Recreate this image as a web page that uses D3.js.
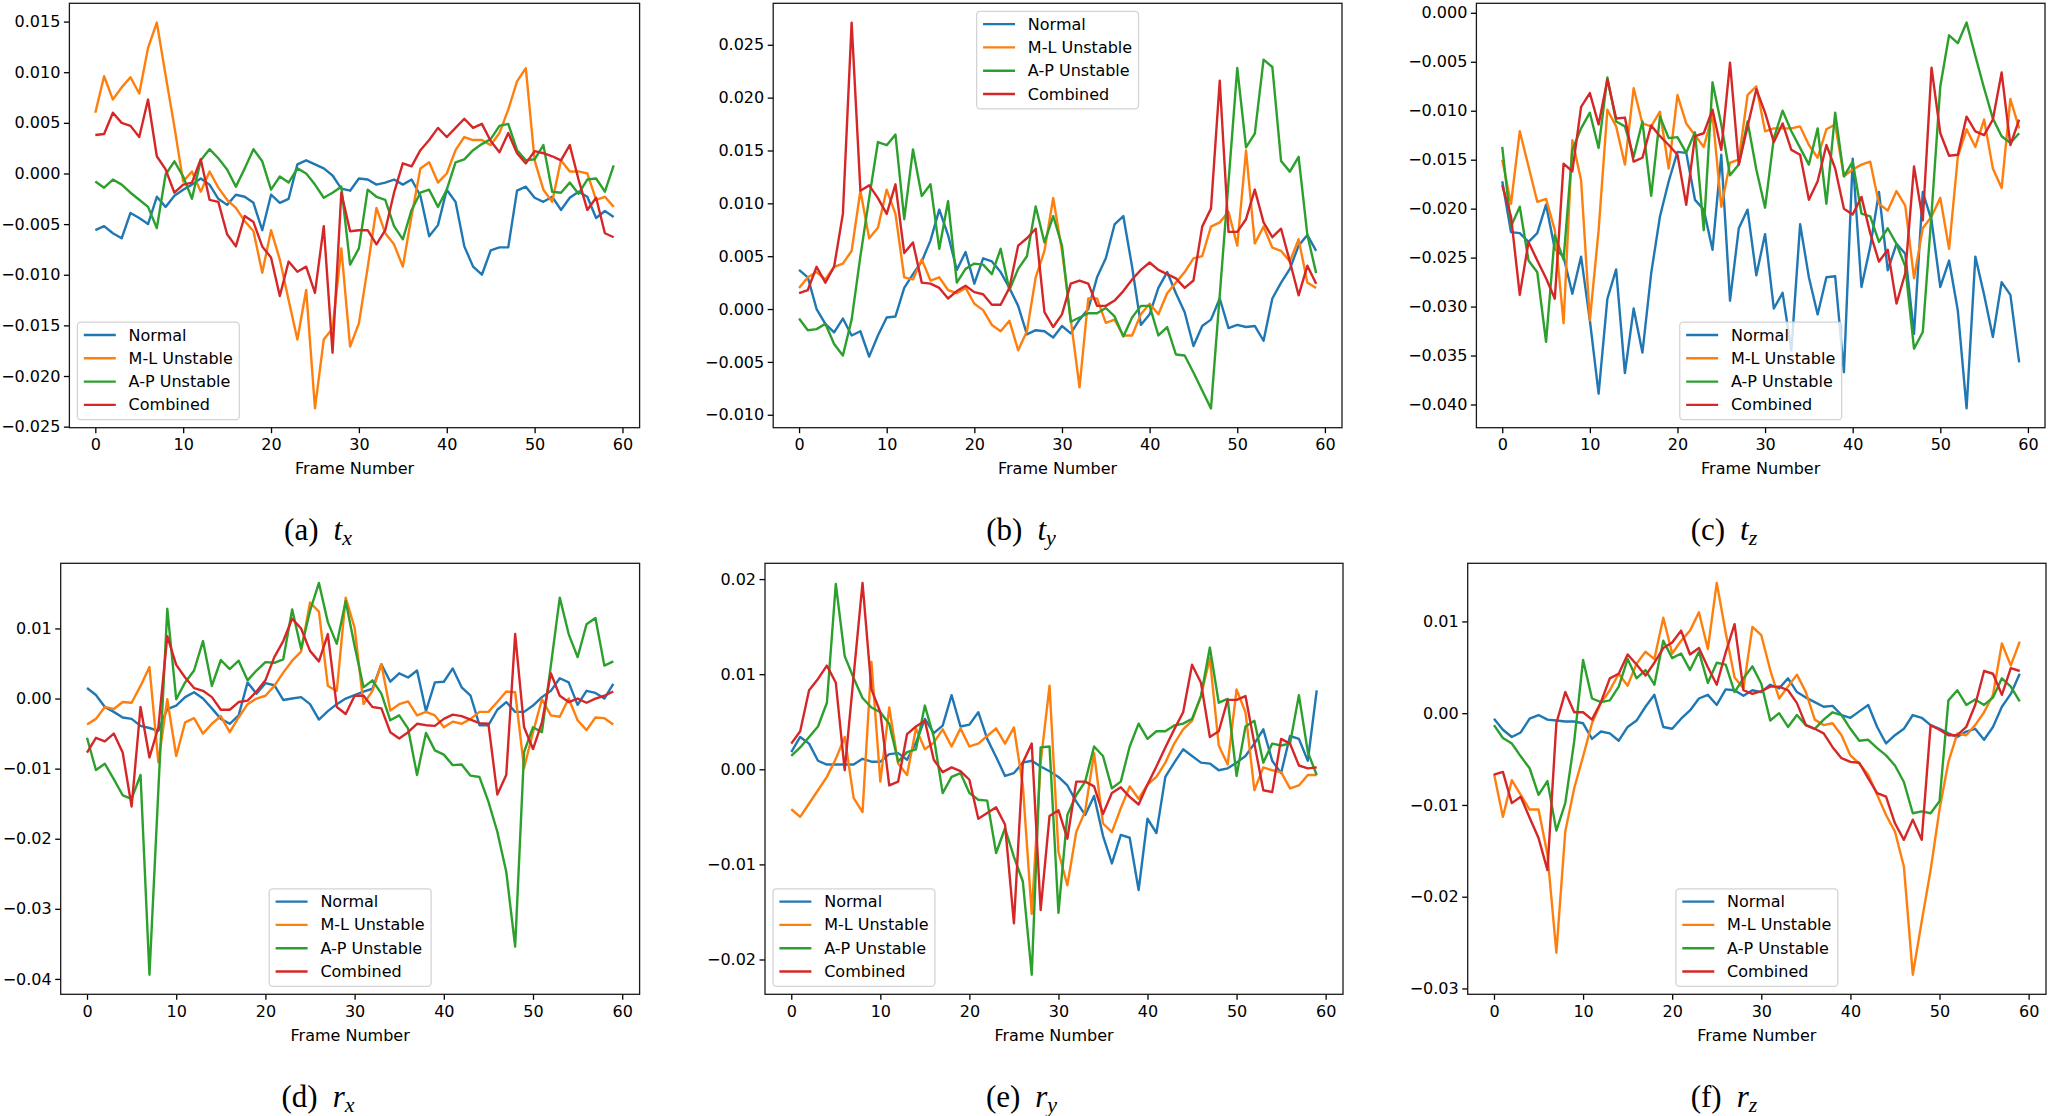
<!DOCTYPE html>
<html>
<head>
<meta charset="utf-8">
<script src="https://cdn.jsdelivr.net/npm/d3@7"></script>
<style>
  html, body { margin: 0; padding: 0; background: #fff; }
  svg { display: block; }
</style>
</head>
<body>
<svg id="fig" width="2048" height="1116"></svg>
<script>
// ---- data -------------------------------------------------------------
const frames = d3.range(60);
const frameTicks = [0, 10, 20, 30, 40, 50, 60];
const seriesNames = ["Normal", "M-L Unstable", "A-P Unstable", "Combined"];
const seriesColors = ["#1f77b4", "#ff7f0e", "#2ca02c", "#d62728"];

// (a) t_x
const txNormal = [
  -0.0056,-0.0052,-0.0059,-0.0064,-0.0039,-0.0044,-0.0050,-0.0023,-0.0033,-0.0022,
  -0.0016,-0.0011,-0.0005,-0.0011,-0.0025,-0.0031,-0.0021,-0.0023,-0.0029,-0.0056,
  -0.0021,-0.0029,-0.0025,0.0009,0.0013,0.0009,0.0005,-0.0002,-0.0015,-0.0017,
  -0.0005,-0.0006,-0.0011,-0.0009,-0.0006,-0.0011,-0.0006,-0.0022,-0.0062,-0.0051,
  -0.0016,-0.0028,-0.0072,-0.0092,-0.0100,-0.0076,-0.0073,-0.0073,-0.0017,-0.0013,
  -0.0024,-0.0028,-0.0023,-0.0036,-0.0024,-0.0018,-0.0023,-0.0044,-0.0037,-0.0043];
const txML = [
  0.0060,0.0096,0.0073,0.0085,0.0095,0.0079,0.0124,0.0149,0.0097,0.0046,
  -0.0008,0.0002,-0.0018,0.0002,-0.0014,-0.0026,-0.0034,-0.0047,-0.0057,-0.0098,
  -0.0056,-0.0085,-0.0125,-0.0164,-0.0115,-0.0232,-0.0164,-0.0153,-0.0074,-0.0171,
  -0.0148,-0.0093,-0.0034,-0.0059,-0.0070,-0.0092,-0.0042,0.0005,0.0011,-0.0009,
  0.0000,0.0023,0.0036,0.0033,0.0033,0.0028,0.0040,0.0063,0.0091,0.0104,
  0.0013,-0.0016,-0.0028,0.0013,0.0002,0.0002,0.0000,-0.0026,-0.0023,-0.0033];
const txAP = [
  -0.0008,-0.0014,-0.0006,-0.0011,-0.0019,-0.0026,-0.0033,-0.0054,-0.0001,0.0012,
  -0.0003,-0.0025,0.0013,0.0024,0.0015,0.0004,-0.0013,0.0005,0.0024,0.0012,
  -0.0016,-0.0003,-0.0009,0.0005,0.0000,-0.0011,-0.0024,-0.0019,-0.0013,-0.0090,
  -0.0074,-0.0016,-0.0023,-0.0026,-0.0052,-0.0065,-0.0036,-0.0019,-0.0016,-0.0033,
  -0.0016,0.0011,0.0014,0.0023,0.0029,0.0034,0.0047,0.0049,0.0023,0.0013,
  0.0014,0.0028,-0.0018,-0.0019,-0.0009,-0.0020,-0.0006,-0.0005,-0.0018,0.0008];
const txComb = [
  0.0038,0.0039,0.0060,0.0050,0.0047,0.0036,0.0073,0.0017,0.0004,-0.0019,
  -0.0011,-0.0009,0.0014,-0.0026,-0.0028,-0.0060,-0.0072,-0.0042,-0.0048,-0.0072,
  -0.0083,-0.0121,-0.0087,-0.0097,-0.0092,-0.0118,-0.0052,-0.0177,-0.0019,-0.0057,
  -0.0056,-0.0056,-0.0070,-0.0056,-0.0019,0.0010,0.0007,0.0023,0.0033,0.0045,
  0.0036,0.0045,0.0054,0.0045,0.0049,0.0032,0.0021,0.0040,0.0020,0.0010,
  0.0022,0.0020,0.0017,0.0013,0.0028,-0.0006,-0.0036,-0.0024,-0.0059,-0.0063];
const txTicks = [-0.025, -0.020, -0.015, -0.010, -0.005, 0, 0.005, 0.010, 0.015];

// (b) t_y
const tyNormal = [
  0.0037,0.0030,0.0000,-0.0014,-0.0022,-0.0009,-0.0025,-0.0021,-0.0045,-0.0025,
  -0.0008,-0.0007,0.0020,0.0033,0.0045,0.0065,0.0094,0.0070,0.0037,0.0054,
  0.0024,0.0048,0.0045,0.0035,0.0020,0.0003,-0.0024,-0.0020,-0.0021,-0.0027,
  -0.0016,-0.0023,-0.0010,0.0000,0.0030,0.0048,0.0080,0.0088,0.0040,-0.0015,
  -0.0005,0.0020,0.0035,0.0015,-0.0003,-0.0035,-0.0016,-0.0010,0.0010,-0.0018,
  -0.0015,-0.0017,-0.0016,-0.0030,0.0010,0.0025,0.0038,0.0060,0.0070,0.0055];
const tyML = [
  0.0020,0.0030,0.0035,0.0028,0.0040,0.0043,0.0055,0.0112,0.0067,0.0077,
  0.0113,0.0090,0.0030,0.0028,0.0047,0.0027,0.0030,0.0018,0.0015,0.0020,
  0.0005,-0.0001,-0.0015,-0.0021,-0.0011,-0.0039,-0.0021,0.0030,0.0055,0.0105,
  0.0055,-0.0010,-0.0074,0.0010,0.0010,-0.0013,-0.0010,-0.0025,-0.0025,-0.0005,
  0.0005,-0.0005,0.0015,0.0025,0.0035,0.0048,0.0050,0.0078,0.0082,0.0092,
  0.0060,0.0150,0.0062,0.0078,0.0058,0.0055,0.0045,0.0066,0.0025,0.0020];
const tyAP = [
  -0.0009,-0.0020,-0.0019,-0.0014,-0.0033,-0.0044,-0.0010,0.0050,0.0105,0.0158,
  0.0155,0.0165,0.0085,0.0151,0.0107,0.0118,0.0057,0.0102,0.0025,0.0038,
  0.0043,0.0042,0.0033,0.0057,0.0018,0.0038,0.0050,0.0097,0.0063,0.0088,
  0.0060,-0.0012,-0.0008,-0.0004,-0.0004,0.0001,-0.0007,-0.0026,-0.0008,0.0003,
  0.0003,-0.0025,-0.0017,-0.0043,-0.0044,-0.0060,-0.0077,-0.0094,0.0013,0.0120,
  0.0228,0.0153,0.0166,0.0236,0.0229,0.0140,0.0130,0.0144,0.0070,0.0034];
const tyComb = [
  0.0015,0.0018,0.0040,0.0025,0.0040,0.0090,0.0271,0.0112,0.0117,0.0105,
  0.0090,0.0118,0.0053,0.0063,0.0025,0.0024,0.0020,0.0010,0.0017,0.0022,
  0.0016,0.0014,0.0004,0.0004,0.0020,0.0060,0.0067,0.0076,-0.0003,-0.0017,
  -0.0005,0.0024,0.0027,0.0024,0.0003,0.0003,0.0008,0.0017,0.0028,0.0037,
  0.0044,0.0037,0.0033,0.0029,0.0020,0.0027,0.0078,0.0095,0.0216,0.0073,
  0.0073,0.0085,0.0113,0.0082,0.0068,0.0076,0.0045,0.0013,0.0041,0.0024];
const tyTicks = [-0.010, -0.005, 0, 0.005, 0.010, 0.015, 0.020, 0.025];

// (c) t_z
const tzNormal = [
  -0.0172,-0.0224,-0.0225,-0.0234,-0.0225,-0.0196,-0.0241,-0.0249,-0.0287,-0.0249,
  -0.0314,-0.0389,-0.0292,-0.0262,-0.0368,-0.0302,-0.0347,-0.0266,-0.0208,-0.0172,
  -0.0142,-0.0143,-0.0191,-0.0201,-0.0242,-0.0145,-0.0294,-0.0220,-0.0201,-0.0268,
  -0.0226,-0.0302,-0.0286,-0.0345,-0.0216,-0.0270,-0.0308,-0.0270,-0.0269,-0.0367,
  -0.0149,-0.0280,-0.0239,-0.0183,-0.0263,-0.0236,-0.0246,-0.0328,-0.0183,-0.0212,
  -0.0280,-0.0253,-0.0304,-0.0404,-0.0249,-0.0288,-0.0331,-0.0275,-0.0288,-0.0357];
const tzML = [
  -0.0150,-0.0195,-0.0121,-0.0157,-0.0193,-0.0190,-0.0222,-0.0317,-0.0130,-0.0171,
  -0.0314,-0.0222,-0.0099,-0.0116,-0.0155,-0.0077,-0.0113,-0.0116,-0.0101,-0.0159,
  -0.0084,-0.0113,-0.0125,-0.0137,-0.0104,-0.0198,-0.0153,-0.0150,-0.0084,-0.0075,
  -0.0121,-0.0118,-0.0118,-0.0118,-0.0116,-0.0135,-0.0148,-0.0119,-0.0114,-0.0167,
  -0.0160,-0.0155,-0.0152,-0.0195,-0.0202,-0.0182,-0.0197,-0.0271,-0.0220,-0.0208,
  -0.0189,-0.0241,-0.0147,-0.0119,-0.0137,-0.0109,-0.0159,-0.0179,-0.0088,-0.0118];
const tzAP = [
  -0.0137,-0.0218,-0.0198,-0.0253,-0.0265,-0.0336,-0.0227,-0.0252,-0.0140,-0.0118,
  -0.0102,-0.0138,-0.0066,-0.0111,-0.0116,-0.0147,-0.0111,-0.0187,-0.0106,-0.0128,
  -0.0127,-0.0143,-0.0122,-0.0222,-0.0071,-0.0114,-0.0166,-0.0155,-0.0111,-0.0160,
  -0.0199,-0.0128,-0.0100,-0.0121,-0.0138,-0.0155,-0.0118,-0.0195,-0.0102,-0.0167,
  -0.0152,-0.0205,-0.0208,-0.0234,-0.0220,-0.0236,-0.0259,-0.0343,-0.0326,-0.0205,
  -0.0075,-0.0023,-0.0031,-0.0010,-0.0044,-0.0077,-0.0108,-0.0126,-0.0133,-0.0123];
const tzComb = [
  -0.0176,-0.0208,-0.0288,-0.0234,-0.0253,-0.0271,-0.0292,-0.0154,-0.0162,-0.0096,
  -0.0082,-0.0114,-0.0068,-0.0108,-0.0107,-0.0152,-0.0148,-0.0115,-0.0126,-0.0135,
  -0.0145,-0.0196,-0.0126,-0.0123,-0.0099,-0.0140,-0.0051,-0.0155,-0.0116,-0.0078,
  -0.0102,-0.0132,-0.0113,-0.0140,-0.0145,-0.0191,-0.0172,-0.0135,-0.0159,-0.0200,
  -0.0206,-0.0188,-0.0225,-0.0254,-0.0242,-0.0297,-0.0266,-0.0157,-0.0212,-0.0056,
  -0.0123,-0.0146,-0.0145,-0.0106,-0.0121,-0.0125,-0.0109,-0.0061,-0.0135,-0.0109];
const tzTicks = [-0.040, -0.035, -0.030, -0.025, -0.020, -0.015, -0.010, -0.005, 0];

// (d) r_x
const rxNormal = [
  0.0015,0.0005,-0.0012,-0.0019,-0.0027,-0.0029,-0.0039,-0.0042,-0.0046,-0.0015,
  -0.0010,0.0002,0.0009,0.0000,-0.0014,-0.0029,-0.0036,-0.0024,0.0023,0.0007,
  0.0022,0.0019,-0.0002,0.0000,0.0002,-0.0008,-0.0030,-0.0018,-0.0008,0.0000,
  0.0005,0.0010,0.0014,0.0049,0.0024,0.0036,0.0030,0.0040,-0.0018,0.0023,
  0.0024,0.0043,0.0016,0.0004,-0.0038,-0.0038,-0.0016,-0.0005,-0.0019,-0.0019,
  -0.0010,0.0002,0.0011,0.0029,0.0023,-0.0009,0.0011,0.0008,0.0000,0.0021];
const rxML = [
  -0.0037,-0.0029,-0.0012,-0.0015,-0.0005,-0.0006,0.0018,0.0045,-0.0091,-0.0001,
  -0.0082,-0.0034,-0.0028,-0.0050,-0.0036,-0.0025,-0.0048,-0.0027,-0.0008,0.0000,
  0.0004,0.0018,0.0037,0.0054,0.0067,0.0137,0.0124,0.0018,0.0011,0.0144,
  0.0101,-0.0008,0.0011,0.0049,-0.0017,-0.0008,-0.0004,-0.0024,-0.0019,-0.0024,
  -0.0041,-0.0033,-0.0036,-0.0029,-0.0019,-0.0019,-0.0005,0.0010,0.0009,-0.0099,
  -0.0048,-0.0001,-0.0024,-0.0026,0.0000,-0.0031,-0.0045,-0.0027,-0.0028,-0.0037];
const rxAP = [
  -0.0056,-0.0102,-0.0093,-0.0115,-0.0138,-0.0143,-0.0109,-0.0394,-0.0130,0.0128,
  -0.0001,0.0023,0.0040,0.0082,0.0018,0.0055,0.0042,0.0054,0.0026,0.0040,
  0.0052,0.0051,0.0056,0.0127,0.0071,0.0125,0.0165,0.0109,0.0078,0.0139,
  0.0075,0.0016,0.0026,0.0007,-0.0031,-0.0024,-0.0043,-0.0109,-0.0049,-0.0074,
  -0.0080,-0.0095,-0.0094,-0.0110,-0.0112,-0.0147,-0.0190,-0.0247,-0.0354,-0.0076,
  -0.0041,-0.0048,0.0047,0.0144,0.0092,0.0059,0.0106,0.0115,0.0047,0.0053];
const rxComb = [
  -0.0077,-0.0056,-0.0061,-0.0050,-0.0077,-0.0154,-0.0012,-0.0084,-0.0041,0.0089,
  0.0048,0.0030,0.0015,0.0011,0.0002,-0.0016,-0.0016,-0.0005,-0.0003,0.0010,
  0.0026,0.0059,0.0082,0.0114,0.0100,0.0068,0.0053,0.0092,-0.0012,-0.0022,
  0.0004,0.0004,-0.0012,-0.0014,-0.0048,-0.0057,-0.0048,-0.0036,-0.0038,-0.0039,
  -0.0029,-0.0023,-0.0025,-0.0030,-0.0035,-0.0036,-0.0137,-0.0109,0.0092,-0.0041,
  -0.0072,-0.0034,0.0036,0.0004,-0.0005,0.0000,-0.0006,0.0000,0.0004,0.0010];
const rxTicks = [-0.04, -0.03, -0.02, -0.01, 0, 0.01];

// (e) r_y
const ryNormal = [
  0.0018,0.0034,0.0027,0.0009,0.0005,0.0005,0.0005,0.0005,0.0011,0.0008,
  0.0008,0.0016,0.0017,0.0010,0.0028,0.0053,0.0038,0.0046,0.0078,0.0045,
  0.0047,0.0060,0.0032,0.0013,-0.0007,-0.0004,0.0007,0.0009,0.0003,-0.0002,
  -0.0008,-0.0017,-0.0034,-0.0048,-0.0028,-0.0070,-0.0099,-0.0069,-0.0072,-0.0127,
  -0.0052,-0.0067,-0.0008,0.0007,0.0021,0.0014,0.0007,0.0006,-0.0001,0.0001,
  0.0007,0.0014,0.0027,0.0042,0.0009,-0.0004,0.0035,0.0032,0.0009,0.0083];
const ryML = [
  -0.0042,-0.0050,-0.0036,-0.0022,-0.0008,0.0011,0.0034,-0.0030,-0.0045,0.0113,
  -0.0013,0.0065,0.0006,-0.0006,0.0043,0.0021,0.0028,0.0042,0.0024,0.0043,
  0.0024,0.0027,0.0035,0.0043,0.0027,0.0044,-0.0017,-0.0152,0.0007,0.0088,
  -0.0087,-0.0122,-0.0066,-0.0044,0.0017,-0.0057,-0.0066,-0.0041,-0.0018,-0.0031,
  -0.0016,-0.0008,0.0007,0.0027,0.0042,0.0051,0.0077,0.0117,0.0025,0.0005,
  0.0084,0.0060,-0.0022,0.0002,-0.0001,-0.0003,-0.0020,-0.0017,-0.0006,-0.0006];
const ryAP = [
  0.0014,0.0023,0.0034,0.0045,0.0070,0.0195,0.0119,0.0096,0.0075,0.0065,
  0.0060,0.0048,0.0008,0.0018,0.0021,0.0067,0.0034,-0.0025,-0.0008,-0.0004,
  -0.0025,-0.0032,-0.0033,-0.0088,-0.0062,-0.0092,-0.0118,-0.0216,0.0023,0.0024,
  -0.0151,-0.0048,-0.0027,-0.0013,0.0024,0.0014,-0.0020,-0.0013,0.0024,0.0048,
  0.0032,0.0040,0.0040,0.0046,0.0048,0.0053,0.0077,0.0128,0.0070,0.0074,
  -0.0007,0.0045,0.0051,0.0007,0.0027,0.0025,0.0027,0.0078,0.0018,-0.0006];
const ryComb = [
  0.0027,0.0040,0.0083,0.0095,0.0109,0.0091,-0.0001,0.0098,0.0196,0.0084,
  0.0060,-0.0017,-0.0013,0.0037,0.0045,0.0051,0.0010,-0.0003,0.0002,-0.0002,
  -0.0011,-0.0052,-0.0046,-0.0040,-0.0058,-0.0162,0.0007,0.0027,-0.0148,-0.0049,
  -0.0043,-0.0073,-0.0013,-0.0013,-0.0018,-0.0047,-0.0025,-0.0019,-0.0029,-0.0037,
  -0.0016,0.0003,0.0023,0.0042,0.0060,0.0110,0.0091,0.0034,0.0040,0.0073,
  0.0073,0.0077,0.0027,-0.0022,-0.0024,0.0032,0.0027,0.0004,0.0001,0.0002];
const ryTicks = [-0.02, -0.01, 0, 0.01, 0.02];

// (f) r_z
const rzNormal = [
  -0.0006,-0.0018,-0.0026,-0.0021,-0.0006,-0.0002,-0.0007,-0.0008,-0.0009,-0.0009,
  -0.0011,-0.0028,-0.0020,-0.0022,-0.0030,-0.0015,-0.0008,0.0007,0.0020,-0.0015,
  -0.0017,-0.0006,0.0003,0.0016,0.0020,0.0009,0.0026,0.0025,0.0019,0.0025,
  0.0023,0.0031,0.0027,0.0038,0.0023,0.0017,0.0012,0.0007,0.0008,-0.0002,
  -0.0005,0.0002,0.0009,-0.0015,-0.0033,-0.0024,-0.0017,-0.0002,-0.0005,-0.0013,
  -0.0017,-0.0022,-0.0026,-0.0020,-0.0017,-0.0029,-0.0015,0.0007,0.0021,0.0043];
const rzML = [
  -0.0066,-0.0113,-0.0073,-0.0089,-0.0105,-0.0105,-0.0154,-0.0261,-0.0129,-0.0082,
  -0.0047,-0.0011,0.0011,0.0025,0.0043,0.0030,0.0054,0.0067,0.0059,0.0104,
  0.0065,0.0079,0.0090,0.0110,0.0070,0.0142,0.0088,0.0039,0.0027,0.0094,
  0.0085,0.0047,0.0016,0.0029,0.0042,0.0023,-0.0007,-0.0013,-0.0011,-0.0024,
  -0.0046,-0.0055,-0.0067,-0.0089,-0.0111,-0.0129,-0.0167,-0.0285,-0.0227,-0.0171,
  -0.0105,-0.0053,-0.0022,-0.0024,-0.0013,0.0001,0.0020,0.0076,0.0052,0.0078];
const rzAP = [
  -0.0013,-0.0027,-0.0033,-0.0047,-0.0060,-0.0089,-0.0074,-0.0128,-0.0098,-0.0031,
  0.0058,0.0016,0.0012,0.0014,0.0029,0.0059,0.0038,0.0047,0.0031,0.0079,
  0.0060,0.0065,0.0047,0.0067,0.0033,0.0055,0.0053,0.0023,0.0038,0.0051,
  0.0032,-0.0008,0.0000,-0.0015,-0.0002,-0.0013,-0.0017,-0.0007,0.0001,-0.0002,
  -0.0017,-0.0030,-0.0029,-0.0038,-0.0046,-0.0057,-0.0075,-0.0109,-0.0107,-0.0109,
  -0.0096,0.0014,0.0025,0.0009,0.0015,0.0009,0.0017,0.0038,0.0029,0.0013];
const rzComb = [
  -0.0067,-0.0064,-0.0098,-0.0091,-0.0114,-0.0136,-0.0171,-0.0011,0.0023,0.0001,
  0.0001,-0.0007,0.0012,0.0038,0.0043,0.0064,0.0053,0.0041,0.0055,0.0071,
  0.0077,0.0090,0.0064,0.0071,0.0050,0.0031,0.0066,0.0097,0.0025,0.0021,
  0.0024,0.0029,0.0029,0.0025,0.0011,-0.0013,-0.0017,-0.0022,-0.0037,-0.0049,
  -0.0053,-0.0054,-0.0071,-0.0087,-0.0091,-0.0120,-0.0138,-0.0116,-0.0138,-0.0013,
  -0.0018,-0.0024,-0.0024,-0.0015,0.0009,0.0046,0.0043,0.0020,0.0049,0.0046];
const rzTicks = [-0.03, -0.02, -0.01, 0, 0.01];

// ---- layout -----------------------------------------------------------
const panels = [
  { letter: "a", sym: "t", sub: "x", series: [txNormal, txML, txAP, txComb], ticks: txTicks, digits: 3,
    legend: "lower left", box: [69.4, 3.3, 639.6, 427.7], cap: [318, 540] },
  { letter: "b", sym: "t", sub: "y", series: [tyNormal, tyML, tyAP, tyComb], ticks: tyTicks, digits: 3,
    legend: "upper center", box: [773.2, 3.3, 1342, 427.7], cap: [1021, 540] },
  { letter: "c", sym: "t", sub: "z", series: [tzNormal, tzML, tzAP, tzComb], ticks: tzTicks, digits: 3,
    legend: "lower center", box: [1476.4, 3.3, 2045, 427.7], cap: [1724, 540] },
  { letter: "d", sym: "r", sub: "x", series: [rxNormal, rxML, rxAP, rxComb], ticks: rxTicks, digits: 2,
    legend: "lower center", box: [60.7, 563.3, 639.6, 994.3], cap: [318, 1107] },
  { letter: "e", sym: "r", sub: "y", series: [ryNormal, ryML, ryAP, ryComb], ticks: ryTicks, digits: 2,
    legend: "lower left", box: [765, 563.3, 1343, 994.3], cap: [1021.5, 1107] },
  { letter: "f", sym: "r", sub: "z", series: [rzNormal, rzML, rzAP, rzComb], ticks: rzTicks, digits: 2,
    legend: "lower center", box: [1467.7, 563.3, 2046, 994.3], cap: [1724, 1107] }
];

const FONT = "'DejaVu Sans', sans-serif";
const FS = 16;            // 10pt at this scale
const TICK = 5.5;
const PAD = 3.5;

const svg = d3.select("#fig");
svg.append("rect").attr("width", 2048).attr("height", 1116).attr("fill", "#fff");

// matplotlib style 5% margins
const padDomain = ([lo, hi]) => { const m = (hi - lo) * 0.05; return [lo - m, hi + m]; };
const fmtTick = digits => d => d.toFixed(digits).replace("-", "\u2212");

function styleAxis(g) {
  g.select(".domain").remove();
  g.attr("font-family", FONT).attr("font-size", FS);
  g.selectAll(".tick line").attr("stroke", "#000").attr("stroke-width", 1.3);
  g.selectAll(".tick text").attr("fill", "#000");
}

function drawPanel(p) {
  const [left, top, right, bottom] = p.box;
  const x = d3.scaleLinear().domain(padDomain(d3.extent(frames))).range([left, right]);
  const y = d3.scaleLinear().domain(padDomain(d3.extent(p.series.flat()))).range([bottom, top]);

  const g = svg.append("g").attr("id", `panel-${p.letter}`);

  const clipId = `clip-${p.letter}`;
  g.append("clipPath").attr("id", clipId)
    .append("rect").attr("x", left).attr("y", top).attr("width", right - left).attr("height", bottom - top);

  g.append("g")
      .attr("transform", `translate(0,${bottom})`)
      .call(d3.axisBottom(x).tickValues(frameTicks).tickSize(TICK).tickPadding(5.5).tickFormat(d3.format("d")))
      .call(styleAxis);

  g.append("g")
      .attr("transform", `translate(${left},0)`)
      .call(d3.axisLeft(y).tickValues(p.ticks).tickSize(TICK).tickPadding(PAD).tickFormat(fmtTick(p.digits)))
      .call(styleAxis);

  const line = d3.line().x((d, i) => x(frames[i])).y(d => y(d));
  g.append("g").attr("clip-path", `url(#${clipId})`)
    .selectAll("path").data(p.series).join("path")
      .attr("d", line)
      .attr("fill", "none")
      .attr("stroke", (d, i) => seriesColors[i])
      .attr("stroke-width", 2.4)
      .attr("stroke-linejoin", "round");

  g.append("rect")
      .attr("x", left).attr("y", top).attr("width", right - left).attr("height", bottom - top)
      .attr("fill", "none").attr("stroke", "#1a1a1a").attr("stroke-width", 1.3);

  g.append("text")
      .attr("x", (left + right) / 2).attr("y", bottom + 46.5)
      .attr("text-anchor", "middle")
      .attr("font-family", FONT).attr("font-size", FS)
      .text("Frame Number");

  drawLegend(g, p.legend, p.box);

  // LaTeX-style sub-caption
  const cap = svg.append("text")
      .attr("x", p.cap[0]).attr("y", p.cap[1])
      .attr("text-anchor", "middle")
      .attr("font-family", "'Liberation Serif', 'DejaVu Serif', serif")
      .attr("font-size", 31);
  cap.append("tspan").text(`(${p.letter})`);
  cap.append("tspan").attr("dx", 15).attr("font-style", "italic").text(p.sym);
  cap.append("tspan").attr("dy", 5).attr("font-size", 22).attr("font-style", "italic").text(p.sub);
}

function drawLegend(g, loc, box) {
  const [left, top, right, bottom] = box;
  const em = FS;
  const rowH = 23.3, boxH = 97.5;
  const handleLen = 2 * em, padIn = 0.4 * em, textPad = 0.8 * em, gapOut = 0.5 * em;

  const probe = g.append("text").attr("font-family", FONT).attr("font-size", FS);
  let maxW = 0;
  seriesNames.forEach(n => { probe.text(n); maxW = Math.max(maxW, probe.node().getComputedTextLength()); });
  probe.remove();

  const boxW = padIn + handleLen + textPad + maxW + padIn;
  let bx, by;
  if (loc === "lower left") { bx = left + gapOut; by = bottom - gapOut - boxH; }
  else if (loc === "upper center") { bx = (left + right) / 2 - boxW / 2; by = top + gapOut; }
  else { bx = (left + right) / 2 - boxW / 2; by = bottom - gapOut - boxH; }

  const lg = g.append("g").attr("transform", `translate(${bx},${by})`);
  lg.append("rect")
      .attr("width", boxW).attr("height", boxH).attr("rx", 3.5)
      .attr("fill", "#fff").attr("fill-opacity", 0.8)
      .attr("stroke", "#d4d4d4").attr("stroke-width", 1.3);

  const rows = lg.selectAll("g.row").data(seriesNames).join("g")
      .attr("class", "row")
      .attr("transform", (d, i) => `translate(0,${12.8 + i * rowH})`);
  rows.append("line")
      .attr("x1", padIn).attr("x2", padIn + handleLen)
      .attr("stroke", (d, i) => seriesColors[i]).attr("stroke-width", 2.4);
  rows.append("text")
      .attr("x", padIn + handleLen + textPad)
      .attr("dominant-baseline", "central")
      .attr("font-family", FONT).attr("font-size", FS)
      .text(d => d);
}

panels.forEach(drawPanel);
</script>
</body>
</html>
